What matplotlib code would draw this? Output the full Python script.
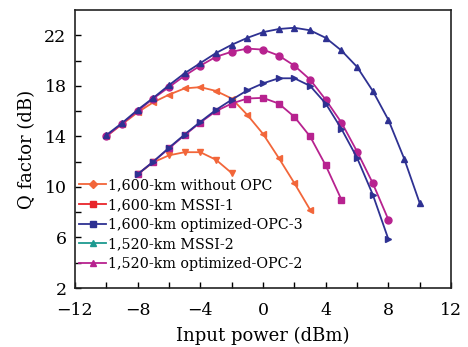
import numpy as np
import matplotlib
matplotlib.use('Agg')
import matplotlib.pyplot as plt
from matplotlib.lines import Line2D

# Q factor vs launch power
x_top_blue = [-10, -9, -8, -7, -6, -5, -4, -3, -2, -1, 0, 1, 2, 3, 4, 5, 6, 7, 8, 9, 10]
q_top_blue = [14.1, 15.05, 16.1, 17.05, 18.05, 19.0, 19.8, 20.6, 21.25, 21.8, 22.25, 22.5,
              22.6, 22.4, 21.8, 20.8, 19.5, 17.6, 15.3, 12.25, 8.7]

x_top_mag = [-10, -9, -8, -7, -6, -5, -4, -3, -2, -1, 0, 1, 2, 3, 4, 5, 6, 7, 8]
q_top_mag = [14.0, 15.0, 16.0, 17.0, 17.9, 18.8, 19.6, 20.3, 20.7, 20.95, 20.87, 20.4,
             19.6, 18.5, 16.9, 15.1, 12.8, 10.3, 7.4]

x_top_org = [-10, -9, -8, -7, -6, -5, -4, -3, -2, -1, 0, 1, 2, 3]
q_top_org = [14.0, 14.95, 15.9, 16.7, 17.3, 17.8, 17.9, 17.6, 17.0, 15.7, 14.2, 12.3, 10.3, 8.2]

x_mid_blue = [-8, -7, -6, -5, -4, -3, -2, -1, 0, 1, 2, 3, 4, 5, 6, 7, 8]
q_mid_blue = [11.0, 12.0, 13.1, 14.15, 15.15, 16.1, 16.9, 17.65, 18.2, 18.6, 18.6, 18.0,
              16.6, 14.6, 12.3, 9.4, 5.85]

x_mid_mag = [-8, -7, -6, -5, -4, -3, -2, -1, 0, 1, 2, 3, 4, 5]
q_mid_mag = [11.0, 12.0, 13.05, 14.1, 15.1, 16.0, 16.6, 17.0, 17.05, 16.6, 15.55, 14.0, 11.7, 9.0]

x_low_org = [-8, -7, -6, -5, -4, -3, -2]
q_low_org = [11.0, 11.95, 12.5, 12.75, 12.75, 12.15, 11.1]

legend_labels = ['1,600-km without OPC', '1,600-km MSSI-1', '1,600-km optimized-OPC-3',
                 '1,520-km MSSI-2', '1,520-km optimized-OPC-2']

orange = '#f2663a'
red = '#e8252b'
navy = '#2e3192'
teal = '#1c9a90'
magenta = '#b7228f'

plt.rcParams['font.family'] = ['DejaVu Serif']

fig = plt.figure(figsize=(4.68, 3.47), dpi=100)
ax = fig.add_axes([0.160, 0.170, 0.804, 0.801])

lw = 1.3
ms = 5
ax.plot(x_top_org, q_top_org, color=orange, lw=lw, marker='<', ms=ms)
ax.plot(x_low_org, q_low_org, color=orange, lw=lw, marker='v', ms=ms)
ax.plot(x_mid_mag, q_mid_mag, color=magenta, lw=lw, marker='s', ms=4.5)
ax.plot(x_top_mag, q_top_mag, color=magenta, lw=lw, marker='o', ms=ms)
ax.plot(x_mid_blue, q_mid_blue, color=navy, lw=lw, marker='>', ms=ms)
ax.plot(x_top_blue, q_top_blue, color=navy, lw=lw, marker='^', ms=ms)

ax.set_xlim(-12, 12)
ax.set_ylim(2, 24)
ax.set_xticks([-12, -8, -4, 0, 4, 8, 12])
ax.set_xticks(np.arange(-10, 12, 2), minor=True)
ax.set_yticks([2, 6, 10, 14, 18, 22])
ax.set_yticks(np.arange(4, 24, 2), minor=True)
ax.tick_params(which='both', direction='in', top=False, right=False, length=4, width=1)
ax.tick_params(axis='x', which='major', labelsize=12.5, pad=10)
ax.tick_params(axis='y', which='major', labelsize=12.5, pad=6)
for s in ax.spines.values():
    s.set_linewidth(1.2)
    s.set_color('#222222')

ax.set_xlabel('Input power (dBm)', fontsize=13, labelpad=6)
ax.set_ylabel('Q factor (dB)', fontsize=13, labelpad=6)

handles = [
    Line2D([], [], color=orange, lw=lw, marker='D', ms=4),
    Line2D([], [], color=red, lw=lw, marker='s', ms=4),
    Line2D([], [], color=navy, lw=lw, marker='s', ms=4),
    Line2D([], [], color=teal, lw=lw, marker='^', ms=4.5),
    Line2D([], [], color=magenta, lw=lw, marker='^', ms=4.5),
]
ax.legend(handles, legend_labels, loc='lower left', bbox_to_anchor=(-0.012, 0.03),
          frameon=False, fontsize=10.3, handlelength=1.9, handletextpad=0.15,
          labelspacing=0.4, borderaxespad=0.2)

fig.savefig('out.png', dpi=100)
